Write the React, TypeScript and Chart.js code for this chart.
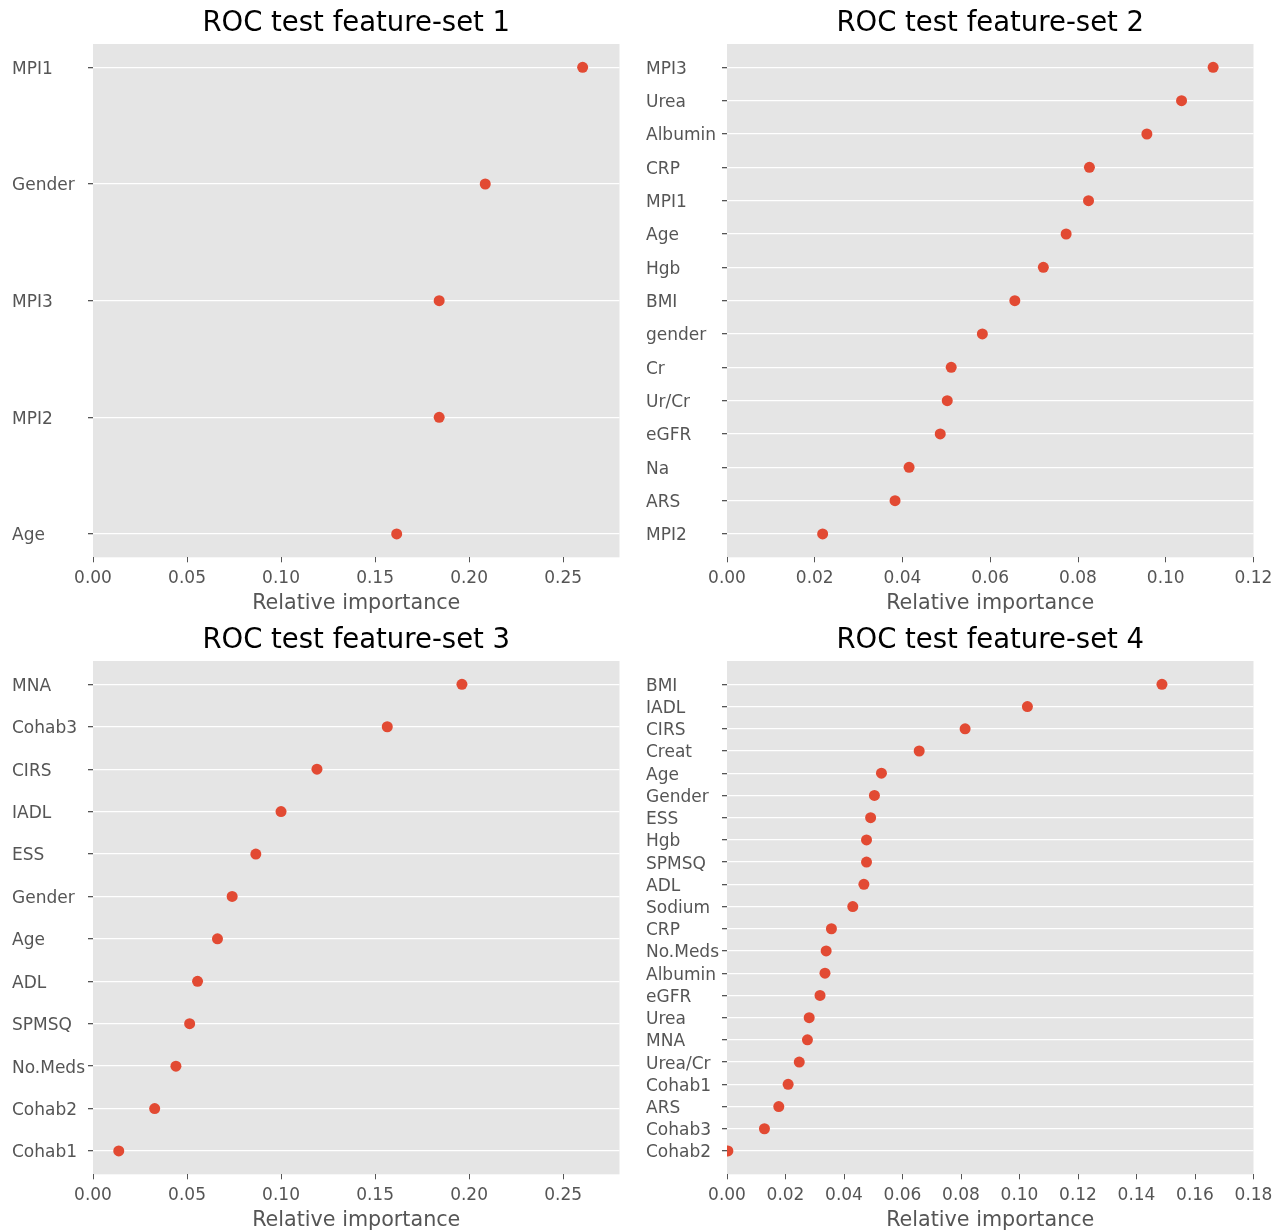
import React, { useEffect, useRef } from "react";
import { Chart, registerables } from "chart.js";

Chart.register(...registerables);

// ---------- data ----------
const titles = [
  "ROC test feature-set 1",
  "ROC test feature-set 2",
  "ROC test feature-set 3",
  "ROC test feature-set 4",
];

const features1 = ["MPI1", "Gender", "MPI3", "MPI2", "Age"];
const importance1 = [0.2604, 0.2086, 0.1841, 0.1841, 0.1615];
const xTicks1 = [0, 0.05, 0.1, 0.15, 0.2, 0.25];
const xMax1 = 0.28;

const features2 = [
  "MPI3", "Urea", "Albumin", "CRP", "MPI1", "Age", "Hgb", "BMI",
  "gender", "Cr", "Ur/Cr", "eGFR", "Na", "ARS", "MPI2",
];
const importance2 = [
  0.1108, 0.1036, 0.0957, 0.0826, 0.0824, 0.0773, 0.0721, 0.0656,
  0.0582, 0.0511, 0.0502, 0.0486, 0.0415, 0.0383, 0.0218,
];
const xTicks2 = [0, 0.02, 0.04, 0.06, 0.08, 0.1, 0.12];
const xMax2 = 0.12;

const features3 = [
  "MNA", "Cohab3", "CIRS", "IADL", "ESS", "Gender", "Age", "ADL",
  "SPMSQ", "No.Meds", "Cohab2", "Cohab1",
];
const importance3 = [
  0.1962, 0.1565, 0.1191, 0.1, 0.0866, 0.074, 0.0662, 0.0556,
  0.0514, 0.0441, 0.0328, 0.0137,
];
const xTicks3 = [0, 0.05, 0.1, 0.15, 0.2, 0.25];
const xMax3 = 0.28;

const features4 = [
  "BMI", "IADL", "CIRS", "Creat", "Age", "Gender", "ESS", "Hgb", "SPMSQ",
  "ADL", "Sodium", "CRP", "No.Meds", "Albumin", "eGFR", "Urea", "MNA",
  "Urea/Cr", "Cohab1", "ARS", "Cohab3", "Cohab2",
];
const importance4 = [
  0.1487, 0.1027, 0.0814, 0.0657, 0.0528, 0.0504, 0.0491, 0.0477, 0.0477,
  0.0468, 0.043, 0.0357, 0.0339, 0.0335, 0.0318, 0.0281, 0.0275,
  0.0247, 0.0209, 0.0177, 0.0128, 0.0003,
];
const xTicks4 = [0, 0.02, 0.04, 0.06, 0.08, 0.1, 0.12, 0.14, 0.16, 0.18];
const xMax4 = 0.18;

const axisLabel = "Relative importance";

// ---------- styling ----------
const FONT = "'DejaVu Sans', sans-serif";
const CANVAS_W = 641;
const CANVAS_H = 622;
const TICK_COLOR = "#555555";
const DOT_COLOR = "#E24A33";
const PANEL_BG = "#E5E5E5";

const plotBg = {
  id: "plotBg",
  beforeDraw(chart: any) {
    const { ctx, chartArea } = chart;
    if (!chartArea) return;
    ctx.save();
    ctx.fillStyle = PANEL_BG;
    ctx.fillRect(
      chartArea.left,
      chartArea.top,
      chartArea.right - chartArea.left,
      chartArea.bottom - chartArea.top
    );
    ctx.restore();
  },
};

type PanelProps = {
  title: string;
  features: string[];
  values: number[];
  xTicks: number[];
  xMax: number;
  left: number;
  top: number;
};

function Panel({ title, features, values, xTicks, xMax, left, top }: PanelProps) {
  const ref = useRef<HTMLCanvasElement | null>(null);

  useEffect(() => {
    if (!ref.current) return;
    const n = features.length;
    const pts = values.map((v, i) => ({ x: v, y: n - 1 - i }));
    const chart = new Chart(ref.current, {
      type: "scatter",
      data: {
        datasets: [
          {
            data: pts,
            backgroundColor: DOT_COLOR,
            borderColor: DOT_COLOR,
            borderWidth: 0,
            pointRadius: 5.5,
            pointHoverRadius: 5.5,
            clip: 0,
          } as any,
        ],
      },
      options: {
        responsive: false,
        animation: false,
        devicePixelRatio: 1,
        layout: { padding: { left: 12, right: 21.5, top: 0, bottom: 0 } },
        plugins: {
          legend: { display: false },
          tooltip: { enabled: false },
          title: {
            display: true,
            fullSize: false,
            text: title,
            color: "#000000",
            font: { family: FONT, size: 27.5, weight: "normal", lineHeight: 1.2 },
            padding: { top: 7, bottom: 4 },
          },
        },
        scales: {
          x: {
            type: "linear",
            min: 0,
            max: xMax,
            border: { display: false },
            grid: {
              drawOnChartArea: false,
              drawTicks: true,
              tickLength: 5,
              tickColor: TICK_COLOR,
              lineWidth: 1,
            },
            ticks: {
              color: TICK_COLOR,
              font: { family: FONT, size: 17 },
              padding: 6.5,
              maxRotation: 0,
              autoSkip: false,
              callback: (v: any) => Number(v).toFixed(2),
            },
            title: {
              display: true,
              text: axisLabel,
              color: TICK_COLOR,
              font: { family: FONT, size: 20.7 },
              padding: { top: 0, bottom: 5.7 },
            },
            afterBuildTicks: (scale: any) => {
              scale.ticks = xTicks.map((v) => ({ value: v }));
            },
            afterFit: (scale: any) => {
              scale.height = 64.7;
              scale.paddingLeft = 0;
              scale.paddingRight = 0;
            },
          },
          y: {
            type: "linear",
            min: -0.05 * (n - 1),
            max: (n - 1) * 1.05,
            border: { display: false },
            grid: {
              color: "#FFFFFF",
              lineWidth: 1.3,
              drawTicks: true,
              tickLength: 5,
              tickColor: TICK_COLOR,
            },
            ticks: {
              color: TICK_COLOR,
              font: { family: FONT, size: 17 },
              crossAlign: "far",
              labelOffset: 2,
              autoSkip: false,
              callback: (v: any) => features[n - 1 - Number(v)] ?? "",
            },
            afterBuildTicks: (scale: any) => {
              scale.ticks = features.map((_, i) => ({ value: i }));
            },
            afterFit: (scale: any) => {
              scale.width = 81;
              scale.paddingTop = 0;
              scale.paddingBottom = 0;
            },
          },
        },
      },
      plugins: [plotBg],
    });
    return () => chart.destroy();
  }, [title, features, values, xTicks, xMax]);

  return (
    <canvas
      ref={ref}
      width={CANVAS_W}
      height={CANVAS_H}
      style={{
        position: "absolute",
        left,
        top,
        width: CANVAS_W,
        height: CANVAS_H,
        display: "block",
      }}
    />
  );
}

export default function App() {
  return (
    <div
      style={{
        position: "absolute",
        left: 0,
        top: 0,
        width: 1282,
        height: 1231,
        overflow: "hidden",
        background: "#FFFFFF",
      }}
    >
      <Panel title={titles[0]} features={features1} values={importance1} xTicks={xTicks1} xMax={xMax1} left={0} top={0} />
      <Panel title={titles[1]} features={features2} values={importance2} xTicks={xTicks2} xMax={xMax2} left={634} top={0} />
      <Panel title={titles[2]} features={features3} values={importance3} xTicks={xTicks3} xMax={xMax3} left={0} top={617} />
      <Panel title={titles[3]} features={features4} values={importance4} xTicks={xTicks4} xMax={xMax4} left={634} top={617} />
    </div>
  );
}
